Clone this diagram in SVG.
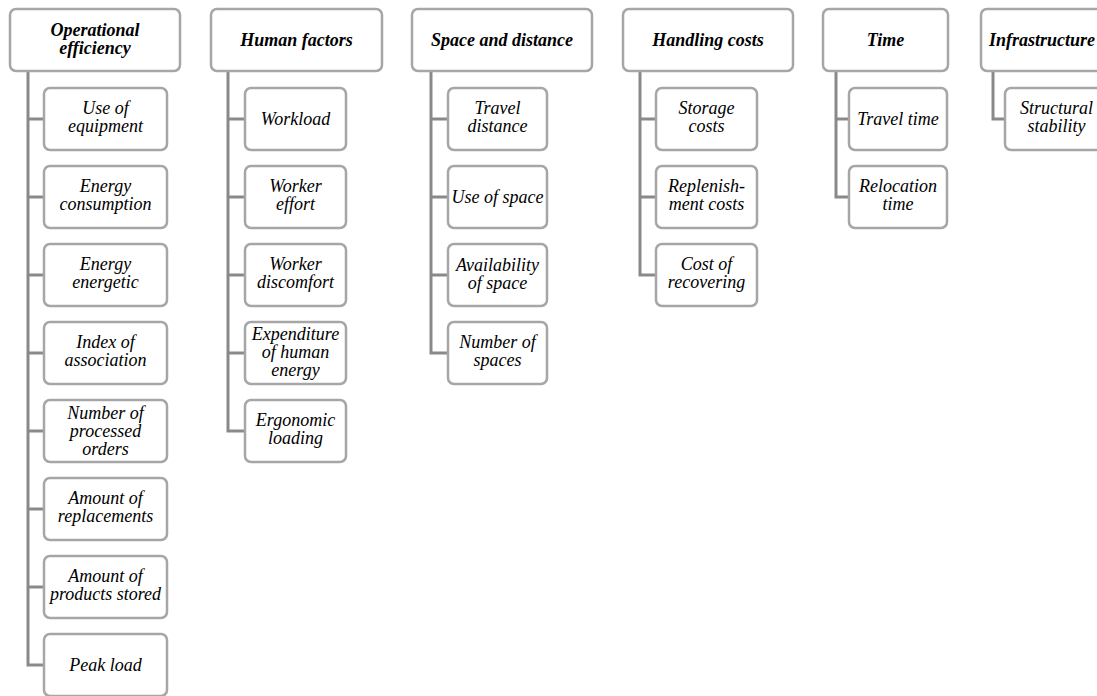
<svg xmlns="http://www.w3.org/2000/svg" width="1097" height="696" viewBox="0 0 1097 696">
<style>
.box{fill:#fff;stroke:#a6a6a6;stroke-width:2.5}
.hd{font-style:italic;font-weight:bold;font-size:18px;text-anchor:middle;fill:#000}
.ch{font-style:italic;font-size:18px;text-anchor:middle;fill:#000}
.cn{fill:none;stroke:#898989;stroke-width:3}
</style>
<rect width="1097" height="696" fill="#fff"/>
<g id="connectors">
<path class="cn" d="M28 71V665H44M28 119H44M28 197H44M28 275H44M28 353H44M28 431H44M28 509H44M28 587H44"/>
<path class="cn" d="M228 71V431H245M228 119H245M228 197H245M228 275H245M228 353H245"/>
<path class="cn" d="M431 71V353H448M431 119H448M431 197H448M431 275H448"/>
<path class="cn" d="M640 71V275H656M640 119H656M640 197H656"/>
<path class="cn" d="M836 71V197H849M836 119H849"/>
<path class="cn" d="M993 71V119H1005"/>
</g>
<g font-family="Liberation Serif, Times New Roman, DejaVu Serif, serif">
<g id="h-operational"><rect class="box" x="10" y="9" width="170" height="62" rx="6"/><text class="hd" x="95" y="36">Operational</text><text class="hd" x="95" y="54">efficiency</text></g>
<g id="h-human"><rect class="box" x="211" y="9" width="171" height="62" rx="6"/><text class="hd" x="296.5" y="46">Human factors</text></g>
<g id="h-space"><rect class="box" x="412" y="9" width="180" height="62" rx="6"/><text class="hd" x="502" y="46">Space and distance</text></g>
<g id="h-handling"><rect class="box" x="623" y="9" width="170" height="62" rx="6"/><text class="hd" x="708" y="46">Handling costs</text></g>
<g id="h-time"><rect class="box" x="823" y="9" width="125" height="62" rx="6"/><text class="hd" x="885.5" y="46">Time</text></g>
<g id="h-infra"><rect class="box" x="981" y="9" width="122" height="62" rx="6"/><text class="hd" x="1042" y="46">Infrastructure</text></g>

<g id="c-use-equipment"><rect class="box" x="44" y="88" width="123" height="62" rx="6"/><text class="ch" x="105.5" y="114">Use of</text><text class="ch" x="105.5" y="132">equipment</text></g>
<g id="c-energy-consumption"><rect class="box" x="44" y="166" width="123" height="62" rx="6"/><text class="ch" x="105.5" y="192">Energy</text><text class="ch" x="105.5" y="210">consumption</text></g>
<g id="c-energy-energetic"><rect class="box" x="44" y="244" width="123" height="62" rx="6"/><text class="ch" x="105.5" y="270">Energy</text><text class="ch" x="105.5" y="288">energetic</text></g>
<g id="c-index"><rect class="box" x="44" y="322" width="123" height="62" rx="6"/><text class="ch" x="105.5" y="348">Index of</text><text class="ch" x="105.5" y="366">association</text></g>
<g id="c-processed"><rect class="box" x="44" y="400" width="123" height="62" rx="6"/><text class="ch" x="105.5" y="419">Number of</text><text class="ch" x="105.5" y="437">processed</text><text class="ch" x="105.5" y="455">orders</text></g>
<g id="c-replacements"><rect class="box" x="44" y="478" width="123" height="62" rx="6"/><text class="ch" x="105.5" y="504">Amount of</text><text class="ch" x="105.5" y="522">replacements</text></g>
<g id="c-stored"><rect class="box" x="44" y="556" width="123" height="62" rx="6"/><text class="ch" x="105.5" y="582">Amount of</text><text class="ch" x="105.5" y="600">products stored</text></g>
<g id="c-peak"><rect class="box" x="44" y="634" width="123" height="62" rx="6"/><text class="ch" x="105.5" y="671">Peak load</text></g>

<g id="c-workload"><rect class="box" x="245" y="88" width="101" height="62" rx="6"/><text class="ch" x="295.5" y="125">Workload</text></g>
<g id="c-effort"><rect class="box" x="245" y="166" width="101" height="62" rx="6"/><text class="ch" x="295.5" y="192">Worker</text><text class="ch" x="295.5" y="210">effort</text></g>
<g id="c-discomfort"><rect class="box" x="245" y="244" width="101" height="62" rx="6"/><text class="ch" x="295.5" y="270">Worker</text><text class="ch" x="295.5" y="288">discomfort</text></g>
<g id="c-expenditure"><rect class="box" x="245" y="322" width="101" height="62" rx="6"/><text class="ch" x="295.5" y="340">Expenditure</text><text class="ch" x="295.5" y="358">of human</text><text class="ch" x="295.5" y="376">energy</text></g>
<g id="c-ergonomic"><rect class="box" x="245" y="400" width="101" height="62" rx="6"/><text class="ch" x="295.5" y="426">Ergonomic</text><text class="ch" x="295.5" y="444">loading</text></g>

<g id="c-travel-distance"><rect class="box" x="448" y="88" width="99" height="62" rx="6"/><text class="ch" x="497.5" y="114">Travel</text><text class="ch" x="497.5" y="132">distance</text></g>
<g id="c-use-space"><rect class="box" x="448" y="166" width="99" height="62" rx="6"/><text class="ch" x="497.5" y="203">Use of space</text></g>
<g id="c-availability"><rect class="box" x="448" y="244" width="99" height="62" rx="6"/><text class="ch" x="497.5" y="271">Availability</text><text class="ch" x="497.5" y="289">of space</text></g>
<g id="c-number-spaces"><rect class="box" x="448" y="322" width="99" height="62" rx="6"/><text class="ch" x="497.5" y="348">Number of</text><text class="ch" x="497.5" y="366">spaces</text></g>

<g id="c-storage"><rect class="box" x="656" y="88" width="101" height="62" rx="6"/><text class="ch" x="706.5" y="114">Storage</text><text class="ch" x="706.5" y="132">costs</text></g>
<g id="c-replenishment"><rect class="box" x="656" y="166" width="101" height="62" rx="6"/><text class="ch" x="706.5" y="192">Replenish-</text><text class="ch" x="706.5" y="210">ment costs</text></g>
<g id="c-recovering"><rect class="box" x="656" y="244" width="101" height="62" rx="6"/><text class="ch" x="706.5" y="270">Cost of</text><text class="ch" x="706.5" y="288">recovering</text></g>

<g id="c-travel-time"><rect class="box" x="849" y="88" width="98" height="62" rx="6"/><text class="ch" x="898" y="125">Travel time</text></g>
<g id="c-relocation"><rect class="box" x="849" y="166" width="98" height="62" rx="6"/><text class="ch" x="898" y="192">Relocation</text><text class="ch" x="898" y="210">time</text></g>

<g id="c-structural"><rect class="box" x="1005" y="88" width="103" height="62" rx="6"/><text class="ch" x="1056.5" y="114">Structural</text><text class="ch" x="1056.5" y="132">stability</text></g>
</g>
</svg>
